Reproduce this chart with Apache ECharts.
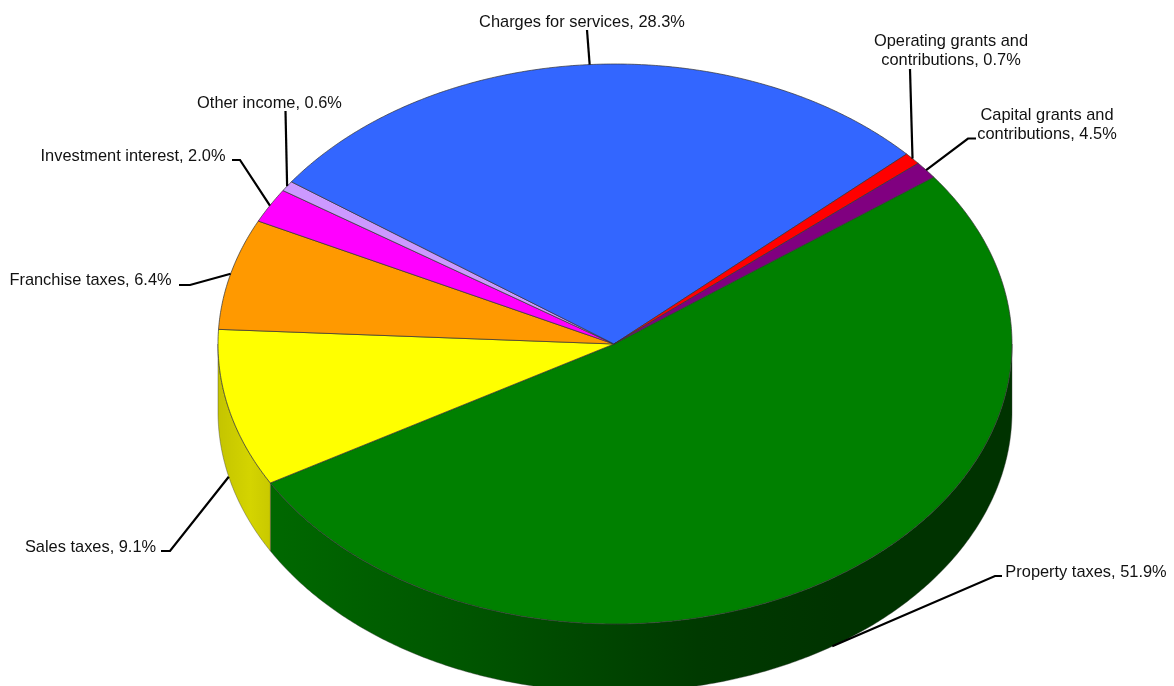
<!DOCTYPE html>
<html>
<head>
<meta charset="utf-8">
<style>html,body{margin:0;padding:0;background:#fff}#c{width:1174px;height:686px}</style>
<script src="https://cdn.jsdelivr.net/npm/echarts@6/dist/echarts.min.js"></script>
</head>
<body>
<div id="c"></div>
<script>
// Slices in drawing order, clockwise from the Capital grants / Property taxes edge
const categories = ['Property taxes','Sales taxes','Franchise taxes','Investment interest','Other income','Charges for services','Operating grants and\ncontributions','Capital grants and\ncontributions'];
// Sizes of the drawn slices (the reference draws the capital grants slice at about 1%)
const sliceValues = [51.9,9.1,6.4,2.0,0.6,28.3,0.7,1.0];
// Percentages as printed in the labels
const labelPercents = ['51.9','9.1','6.4','2.0','0.6','28.3','0.7','4.5'];
const topColors = ['#008000','#FFFF00','#FF9900','#FF00FF','#CC99FF','#3366FF','#FF0000','#800080'];
// [text centre x, text centre y, elbow points from label towards the slice]
const labelLayout = [
  [1086,572,[[1002,576],[995,576]]],
  [90.5,547,[[161,551],[170,551]]],
  [90.5,280,[[179,285],[190,285]]],
  [133,156,[[232,160],[240,160]]],
  [269.5,103,[[285.5,111]]],
  [582,22,[[587,30]]],
  [951,51,[[910,69]]],
  [1047,125,[[976,138.5],[968,138.5]]]
];
const pie = {cx:615, cy:344, hubX:614, rx:397, ry:280, depth:68, start:53.4};
const font = '16.4px "Liberation Sans", Arial, sans-serif';
const wallFills = {
  0:{type:'linear',x:272,y:0,x2:840,y2:0,global:true,colorStops:[{offset:0,color:'#006800'},{offset:0.35,color:'#005500'},{offset:0.75,color:'#003A00'},{offset:1,color:'#003300'}]},
  1:{type:'linear',x:218,y:0,x2:272,y2:0,global:true,colorStops:[{offset:0,color:'#C4C400'},{offset:0.6,color:'#D4D400'},{offset:1,color:'#C8C800'}]}
};
const total = sliceValues.reduce((a,b)=>a+b,0);
function pt(a, dy){
  const r = a*Math.PI/180;
  return [pie.cx+pie.rx*Math.sin(r), pie.cy-pie.ry*Math.cos(r)+(dy||0)];
}
function arc(a0,a1,dy){
  const n = Math.max(2,Math.ceil(Math.abs(a1-a0)/0.5)), out=[];
  for(let i=0;i<=n;i++) out.push(pt(a0+(a1-a0)*i/n,dy));
  return out;
}
function sliceRange(i){
  let s = pie.start;
  for(let k=0;k<i;k++) s += sliceValues[k]/total*360;
  return [s, s+sliceValues[i]/total*360];
}
function renderItem(params){
  const i = params.dataIndex, [a0,a1] = sliceRange(i), children = [];
  const mid = (a0+a1)/2;
  const w0 = Math.max(a0,90), w1 = Math.min(a1,270);
  if(w1>w0){
    const pts = arc(w0,w1,0).concat(arc(w1,w0,pie.depth));
    children.push({type:'polygon',z2:1,shape:{points:pts},style:{fill:wallFills[i]||topColors[i],stroke:'#3a3a3a',lineWidth:0.4}});
  }
  children.push({type:'polygon',z2:2,shape:{points:[[pie.hubX,pie.cy]].concat(arc(a0,a1,0))},
    style:{fill:topColors[i],stroke:'#333',lineWidth:0.7,lineJoin:'round'}});
  const front = mid>90 && mid<270;
  const anchor = pt(mid, front?pie.depth:0);
  const L = labelLayout[i];
  children.push({type:'polyline',z2:3,shape:{points:L[2].concat([anchor])},style:{fill:'none',stroke:'#000',lineWidth:2.2}});
  children.push({type:'text',z2:4,style:{x:L[0],y:L[1],text:categories[i]+', '+labelPercents[i]+'%',
    font:font,fill:'#111',align:'center',verticalAlign:'middle',lineHeight:19}});
  return {type:'group',children:children};
}
const chart = echarts.init(document.getElementById('c'),null,{renderer:'canvas'});
chart.setOption({
  animation:false,
  backgroundColor:'#fff',
  series:[{type:'custom',coordinateSystem:'none',renderItem:renderItem,silent:true,clip:false,
    data:sliceValues.map((v,i)=>({name:categories[i],value:[v]}))}]
});
</script>
</body>
</html>
